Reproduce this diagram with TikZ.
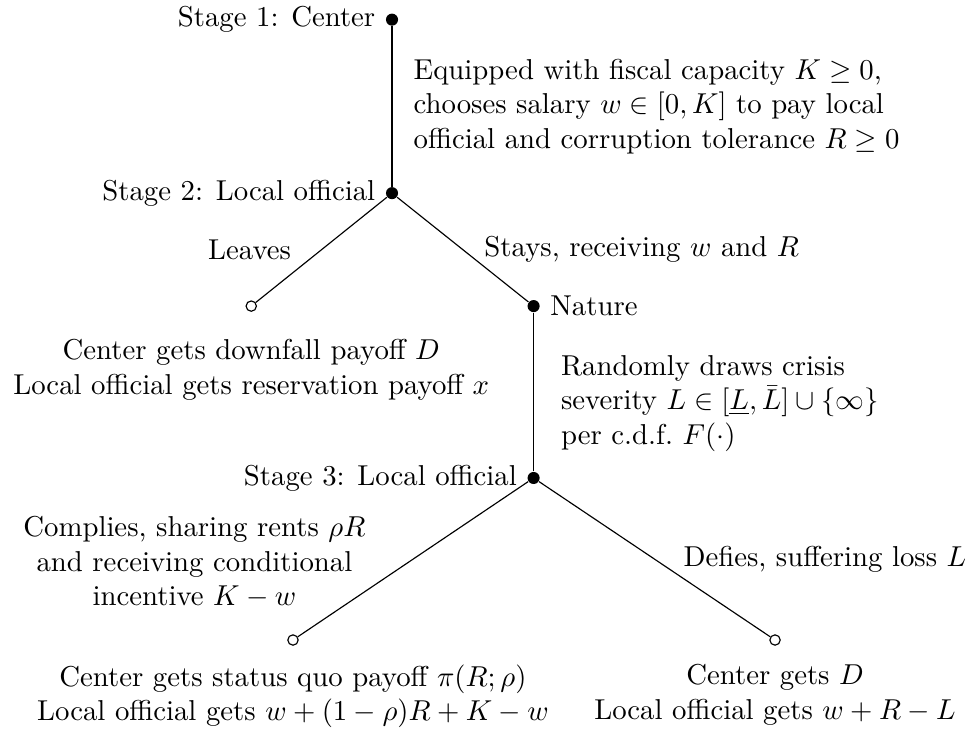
\documentclass[tikz,border=0pt]{standalone}
\usepackage{amsmath,amssymb}
\usepackage{tikz}
\usetikzlibrary{positioning}
\tikzset{
    decision/.style={
        circle,
        fill=black,
        inner sep=0pt,
        minimum size=4.2pt
    },
    terminal/.style={
        circle,
        draw=black,
        fill=white,
        inner sep=0pt,
        minimum size=3.6pt
    }
}
\begin{document}
\begin{tikzpicture}
            % Help lines :
            % \draw [help lines] (-5,1) grid (7,-9);
            \useasboundingbox (-4.79,0.24) rectangle (7.05,-8.70);

            % Decision nodes
            \node (center) [decision, label=left:{Stage 1: Center}] at (0,0) {};
            \node (official) [decision, label=left:{Stage 2: Local official}] at (0,-2.12) {};
            \node (nature) [decision, label=right:{Nature}] at (1.73,-3.5) {};
            \node (official3) [decision, label=left:{Stage 3: Local official}] at (1.73,-5.6) {};

            % Terminal nodes
            \node (leave) [terminal] at (-1.72,-3.5) {};
            \node (comply) [terminal] at (-1.21,-7.58) {};
            \node (defy) [terminal] at (4.68,-7.58) {};

            % Payoffs
            \node (leavePay) [below=6pt of leave, align=center] {Center gets downfall payoff $D$\\ Local official gets reservation payoff $x$};
            \node (complyPay) [below=3pt of comply, align=center] {Center gets status quo payoff $\pi(R;\rho)$\\ Local official gets $w+(1-\rho)R+K-w$};
            \node (defyPay) [below=3pt of defy, align=center] {Center gets $D$\\ Local official gets $w+R-L$};

            % Edges
            \path [draw]
                % Out of center
                (center) edge node [right=4pt, align=left] {Equipped with fiscal capacity $K \geq 0$,\\ chooses salary $w \in [0,K]$ to pay local\\ official and corruption tolerance $R \geq 0$} (official)

                % Out of official
                (official) edge node [left=7pt] {Leaves} (leave)
                (official) edge node [right=4pt] {Stays, receiving $w$ and $R$} (nature)

                % Out of nature
                (nature) edge node [right=6pt, pos=0.57, align=left] {Randomly draws crisis\\ severity $L \in [\underline{L},\bar{L}] \cup \{\infty\}$\\ per c.d.f.\ $F(\cdot)$} (official3)

                % Out of official3
                (official3) edge node [left=13pt, yshift=-1pt, align=center] {Complies, sharing rents $\rho R$\\ and receiving conditional\\ incentive $K-w$} (comply)
                (official3) edge node [right=6.5pt] {Defies, suffering loss $L$} (defy)
            ;
        \end{tikzpicture}
\end{document}
